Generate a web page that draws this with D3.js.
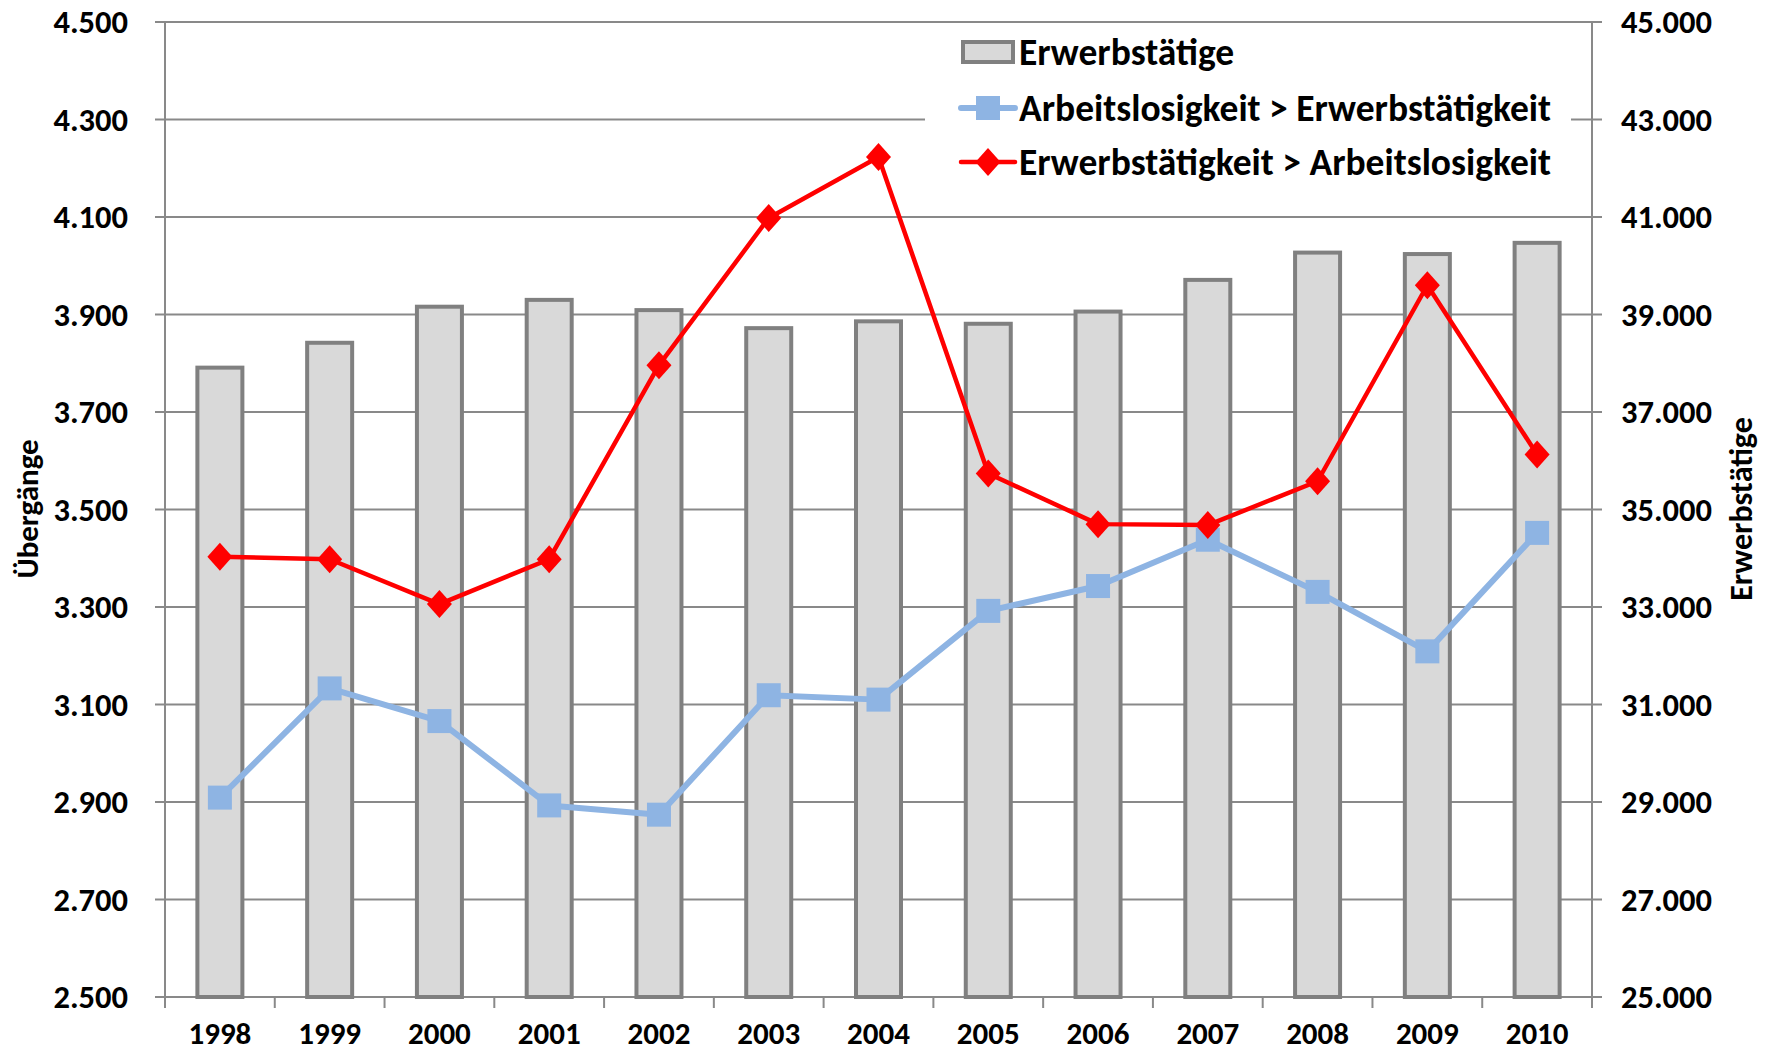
<!DOCTYPE html>
<html>
<head>
<meta charset="utf-8">
<script src="https://cdn.jsdelivr.net/npm/d3@7"></script>
<style>
  body { margin: 0; background: #fff; }
  svg text { font-family: Carlito, Lato, "Open Sans", sans-serif; font-weight: bold; fill: #000; }
</style>
</head>
<body>
<div id="chart"></div>
<script>
const years = ['1998', '1999', '2000', '2001', '2002', '2003', '2004', '2005', '2006', '2007', '2008', '2009', '2010'];
const erwerbstaetige = [37910, 38420, 39160, 39300, 39090, 38720, 38860, 38810, 39060, 39710, 40270, 40240, 40470];
const alZuEw = [2909, 3133, 3066, 2893, 2874, 3119, 3110, 3292, 3343, 3438, 3331, 3209, 3452];
const ewZuAl = [3403, 3398, 3306, 3398, 3796, 4098, 4223, 3574, 3470, 3468, 3558, 3960, 3613];
const leftTicks = [2500, 2700, 2900, 3100, 3300, 3500, 3700, 3900, 4100, 4300, 4500];
const rightTicks = [25000, 27000, 29000, 31000, 33000, 35000, 37000, 39000, 41000, 43000, 45000];

const width = 1766;
const height = 1052;
const margin = { top: 22, right: 174, bottom: 55, left: 165 };
const GRID = '#898989';

const de = d3.formatLocale({ decimal: ',', thousands: '.', grouping: [3], currency: ['', ' €'] });
const fmt = de.format(',.0f');

const svg = d3.select('#chart').append('svg')
    .attr('width', width).attr('height', height);

const x = d3.scaleBand().domain(years)
    .range([margin.left, width - margin.right])
    .paddingInner(0.59).paddingOuter(0.295);
const yL = d3.scaleLinear().domain([2500, 4500]).range([height - margin.bottom, margin.top]);
const yR = d3.scaleLinear().domain([25000, 45000]).range([height - margin.bottom, margin.top]);
const cx = (d) => x(d) + x.bandwidth() / 2;

const x0 = margin.left;
const x1 = width - margin.right;
const yBottom = height - margin.bottom;

// gridlines, with tick stubs on both sides
svg.append('g').selectAll('line').data(leftTicks).enter().append('line')
    .attr('x1', x0 - 10).attr('x2', x1 + 10)
    .attr('y1', (d) => yL(d)).attr('y2', (d) => yL(d))
    .attr('stroke', GRID).attr('stroke-width', 2);

// x axis ticks between categories
const step = x.step();
svg.append('g').selectAll('line').data(d3.range(years.length + 1)).enter().append('line')
    .attr('x1', (i) => x0 + i * step).attr('x2', (i) => x0 + i * step)
    .attr('y1', yBottom).attr('y2', yBottom + 11)
    .attr('stroke', GRID).attr('stroke-width', 2);

// axis lines
svg.append('line').attr('x1', x0).attr('x2', x0).attr('y1', margin.top).attr('y2', yBottom)
    .attr('stroke', GRID).attr('stroke-width', 2);
svg.append('line').attr('x1', x1).attr('x2', x1).attr('y1', margin.top).attr('y2', yBottom)
    .attr('stroke', GRID).attr('stroke-width', 2);

// bars
svg.append('g').selectAll('rect').data(years).enter().append('rect')
    .attr('x', (d) => x(d))
    .attr('y', (d, i) => yR(erwerbstaetige[i]))
    .attr('width', x.bandwidth())
    .attr('height', (d, i) => yBottom - yR(erwerbstaetige[i]))
    .attr('fill', '#d9d9d9').attr('stroke', '#808080').attr('stroke-width', 4);

// lines + markers
const line = (vals) => d3.line().x((d) => cx(d)).y((d, i) => yL(vals[i]))(years);
svg.append('path').attr('d', line(alZuEw)).attr('fill', 'none')
    .attr('stroke', '#8eb4e3').attr('stroke-width', 6).attr('stroke-linejoin', 'round');
svg.append('g').selectAll('rect').data(years).enter().append('rect')
    .attr('x', (d) => cx(d) - 12).attr('y', (d, i) => yL(alZuEw[i]) - 12)
    .attr('width', 24).attr('height', 24).attr('fill', '#8eb4e3');

svg.append('path').attr('d', line(ewZuAl)).attr('fill', 'none')
    .attr('stroke', '#ff0000').attr('stroke-width', 4.5).attr('stroke-linejoin', 'round');
const diamond = 'M0,-14L12.5,0L0,14L-12.5,0Z';
svg.append('g').selectAll('path').data(years).enter().append('path')
    .attr('transform', (d, i) => `translate(${cx(d)},${yL(ewZuAl[i])})`)
    .attr('d', diamond).attr('fill', '#ff0000');

// tick labels
svg.append('g').selectAll('text').data(leftTicks).enter().append('text')
    .attr('x', 128).attr('y', (d) => yL(d)).attr('dy', '0.35em')
    .attr('text-anchor', 'end').style('font-size', '32.5px')
    .text((d) => fmt(d));
svg.append('g').selectAll('text').data(rightTicks).enter().append('text')
    .attr('x', 1621).attr('y', (d) => yR(d)).attr('dy', '0.35em')
    .attr('text-anchor', 'start').style('font-size', '32.5px')
    .text((d) => fmt(d));
svg.append('g').selectAll('text').data(years).enter().append('text')
    .attr('x', (d) => cx(d)).attr('y', 1044)
    .attr('text-anchor', 'middle').style('font-size', '31px')
    .text((d) => d);

// axis titles
svg.append('text').attr('transform', 'translate(27,509) rotate(-90)')
    .attr('text-anchor', 'middle').attr('dy', '0.35em').style('font-size', '31px').text('Übergänge');
svg.append('text').attr('transform', 'translate(1741,509) rotate(-90)')
    .attr('text-anchor', 'middle').attr('dy', '0.35em').style('font-size', '32px').text('Erwerbstätige');

// legend
const legend = svg.append('g');
legend.append('rect').attr('x', 925).attr('y', 24).attr('width', 646).attr('height', 170).attr('fill', '#fff');
const legendItems = [
    { key: 'Erwerbstätige', type: 'bar' },
    { key: 'Arbeitslosigkeit > Erwerbstätigkeit', type: 'square' },
    { key: 'Erwerbstätigkeit > Arbeitslosigkeit', type: 'diamond' }
];
const ly = [52, 108, 162];
legendItems.forEach((item, i) => {
    const g = legend.append('g').attr('transform', `translate(0,${ly[i]})`);
    if (item.type === 'bar') {
        g.append('rect').attr('x', 963).attr('y', -10).attr('width', 50).attr('height', 20)
            .attr('fill', '#d9d9d9').attr('stroke', '#808080').attr('stroke-width', 4);
    } else if (item.type === 'square') {
        g.append('line').attr('x1', 961).attr('x2', 1015).attr('y1', 0).attr('y2', 0)
            .attr('stroke', '#8eb4e3').attr('stroke-width', 6).attr('stroke-linecap', 'round');
        g.append('rect').attr('x', 976).attr('y', -12).attr('width', 24).attr('height', 24).attr('fill', '#8eb4e3');
    } else {
        g.append('line').attr('x1', 961).attr('x2', 1015).attr('y1', 0).attr('y2', 0)
            .attr('stroke', '#ff0000').attr('stroke-width', 4.5).attr('stroke-linecap', 'round');
        g.append('path').attr('transform', 'translate(988,0)').attr('d', diamond).attr('fill', '#ff0000');
    }
    g.append('text').attr('x', 1019).attr('y', 0).attr('dy', '0.35em')
        .style('font-size', '37.5px').text(item.key);
});
</script>
</body>
</html>
